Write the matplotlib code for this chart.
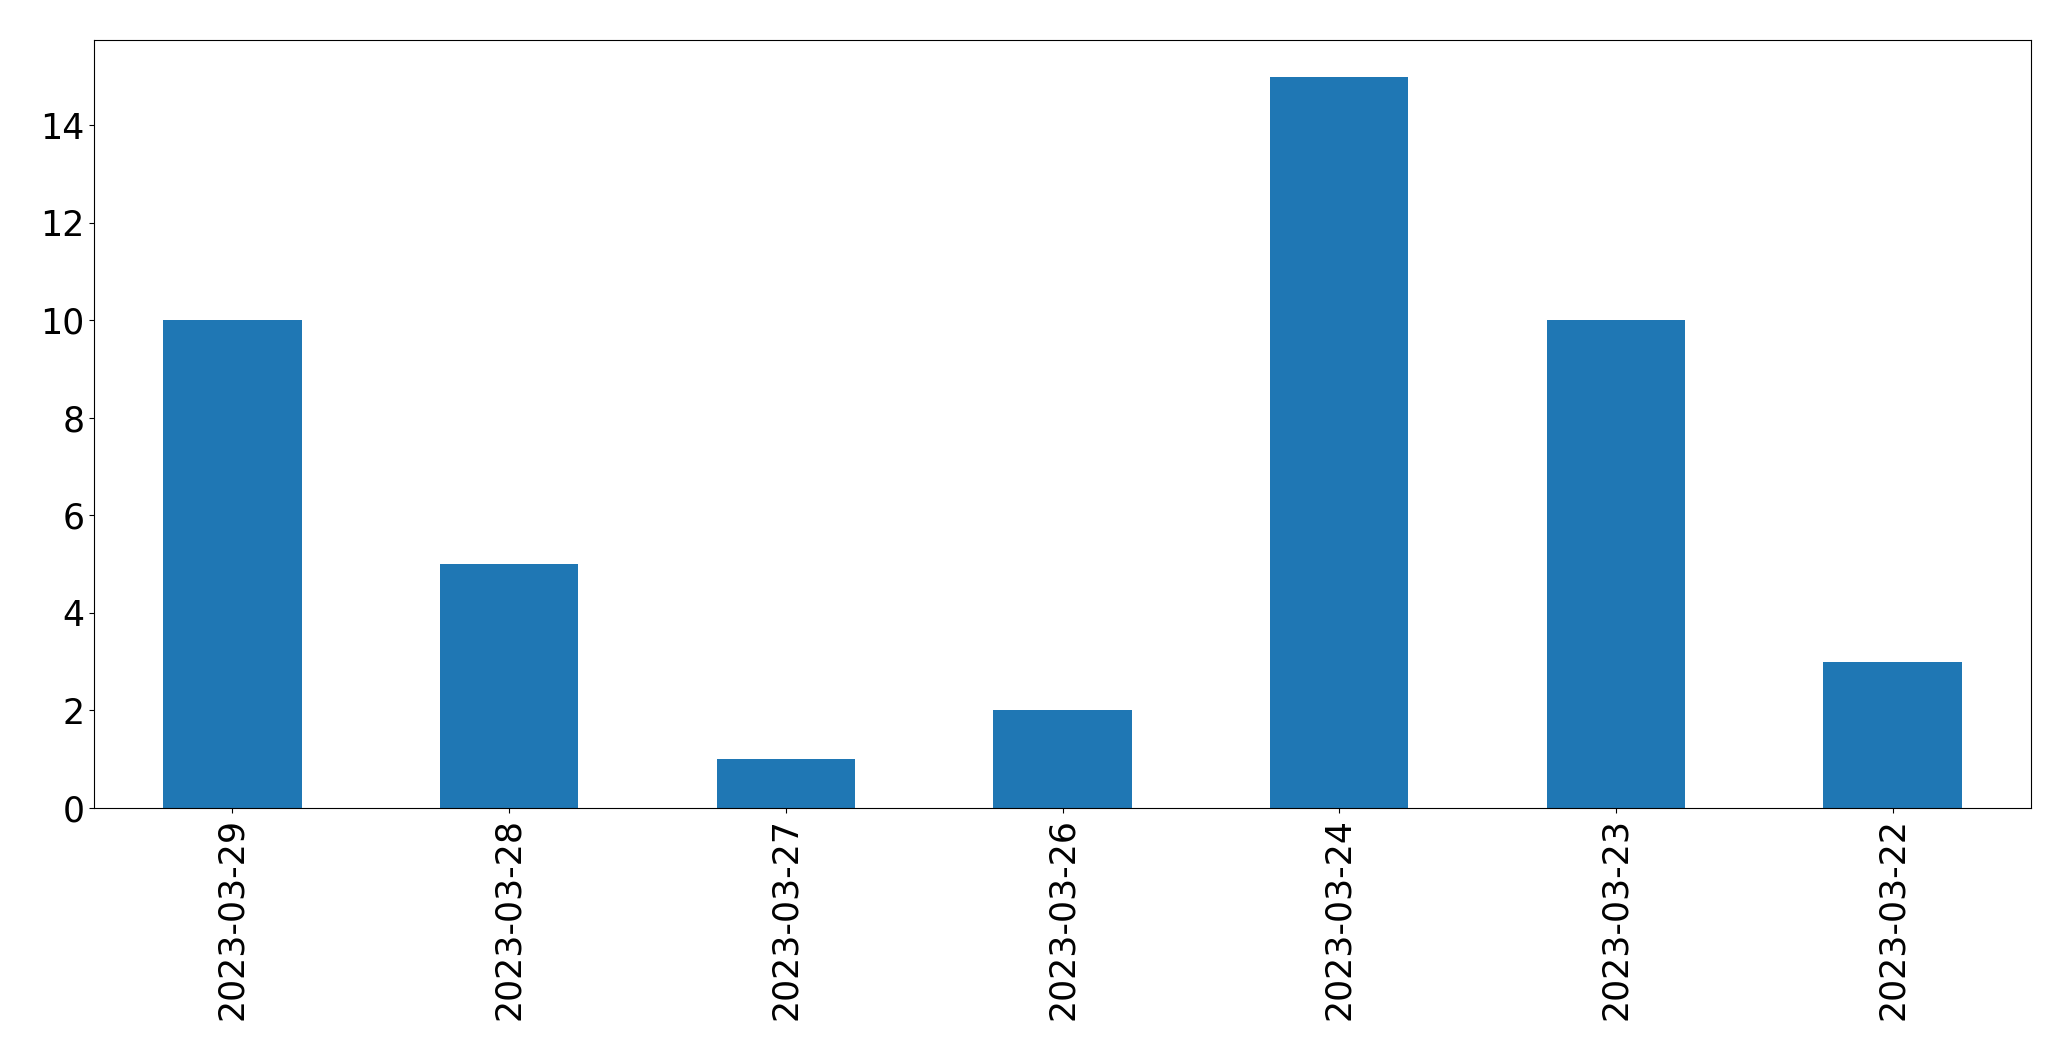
import matplotlib
matplotlib.use("Agg")
import matplotlib.pyplot as plt

dates = ["2023-03-29", "2023-03-28", "2023-03-27", "2023-03-26",
         "2023-03-24", "2023-03-23", "2023-03-22"]
counts = [10, 5, 1, 2, 15, 10, 3]

fig = plt.figure(figsize=(20.71, 10.61), dpi=100)
ax = fig.add_axes([0.0454, 0.2385, 0.9353, 0.7238])
x = list(range(len(dates)))
ax.bar(x, counts, width=0.5, color="#1f77b4")
ax.set_xticks(x)
ax.set_xticklabels(dates, rotation=90)
ax.set_xlim(-0.5, len(dates) - 0.5)
ax.tick_params(axis="both", labelsize=25)
fig.savefig("out.png", dpi=100)
